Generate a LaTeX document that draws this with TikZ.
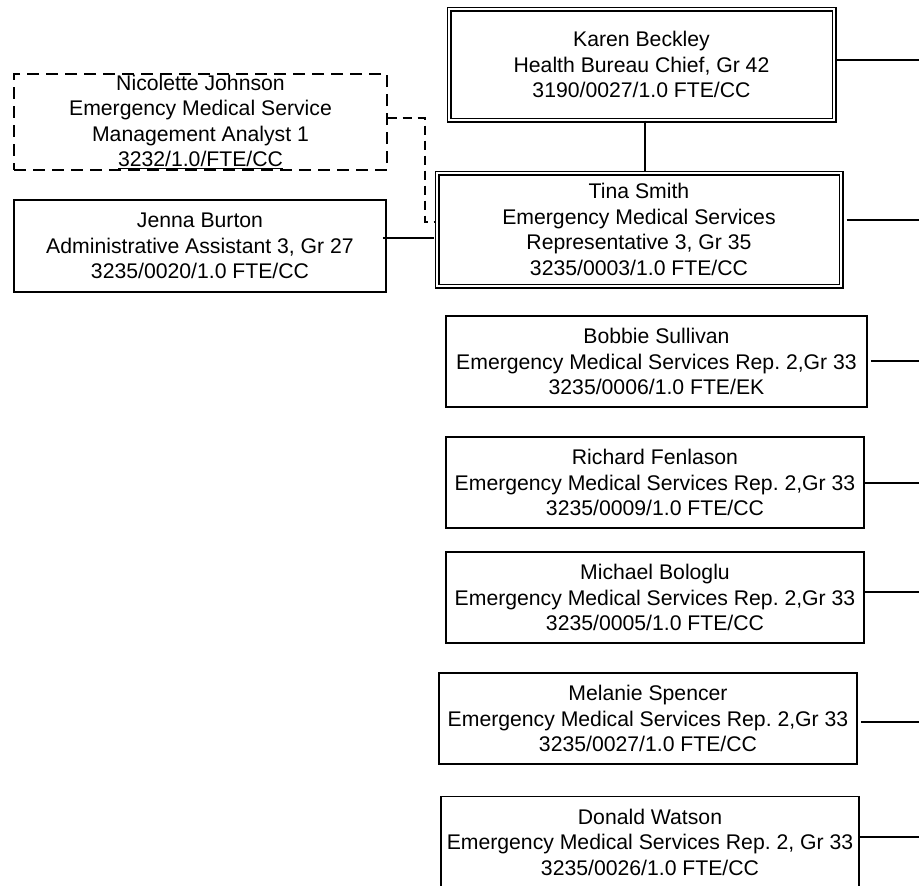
\documentclass[tikz,border=0pt]{standalone}
\usepackage{fontspec}
\setmainfont{Liberation Sans}
\frenchspacing
\begin{document}
\begin{tikzpicture}[x=1pt,y=-1pt,
  every node/.style={font=\fontsize{21.2}{25.5}\selectfont, align=center, inner sep=0pt},
  box/.style={draw, line width=1.6pt, rectangle},
  dbox/.style={draw, line width=1.3pt, double, double distance=2.4pt, rectangle},
  dashbox/.style={draw, line width=1.4pt, dash pattern=on 12pt off 7pt, rectangle},
  link/.style={line width=1.7pt},
  dlink/.style={line width=1.2pt, dash pattern=on 9pt off 6pt}]
\useasboundingbox (0,0) rectangle (919,886);
\clip (0,0) rectangle (919,886);
\fill[white] (0,0) rectangle (919,886);

% nodes
\node[dbox, minimum width=385pt, minimum height=111pt] (karen) at (641.5,64.5)
  {Karen Beckley\\Health Bureau Chief, Gr 42\\3190/0027/1.0 FTE/CC};
\node[dbox, minimum width=404pt, minimum height=113pt] (tina) at (639,229.5)
  {Tina Smith\\Emergency Medical Services\\Representative 3, Gr 35\\3235/0003/1.0 FTE/CC};
\node[dashbox, minimum width=373pt, minimum height=96pt] (nic) at (200.5,122)
  {Nicolette Johnson\\Emergency Medical Service\\Management Analyst 1\\\underline{3232/1.0/FTE/CC}};
\node[box, minimum width=372pt, minimum height=92pt] (jenna) at (200,246)
  {Jenna Burton\\Administrative Assistant 3, Gr 27\\3235/0020/1.0 FTE/CC};
\node[box, minimum width=421pt, minimum height=91pt] (bobbie) at (656.5,361.5)
  {Bobbie Sullivan\\Emergency Medical Services Rep. 2,Gr 33\hspace{6pt}\\3235/0006/1.0 FTE/EK};
\node[box, minimum width=418pt, minimum height=91pt] (richard) at (655,482.5)
  {Richard Fenlason\\Emergency Medical Services Rep. 2,Gr 33\\3235/0009/1.0 FTE/CC};
\node[box, minimum width=418pt, minimum height=91pt] (michael) at (655,597.5)
  {Michael Bologlu\\Emergency Medical Services Rep. 2,Gr 33\\3235/0005/1.0 FTE/CC};
\node[box, minimum width=418pt, minimum height=91pt] (melanie) at (648,718.5)
  {Melanie Spencer\\Emergency Medical Services Rep. 2,Gr 33\\3235/0027/1.0 FTE/CC};
\node[box, minimum width=418pt, minimum height=91pt] (donald) at (650,842)
  {Donald Watson\\Emergency Medical Services Rep. 2, Gr 33\\3235/0026/1.0 FTE/CC};

% free ends at the right edge and bend points
\coordinate (kx) at (645,0);
\coordinate (kR) at (919,60);
\coordinate (tR) at (919,220);
\coordinate (bR) at (919,361);
\coordinate (rR) at (919,483);
\coordinate (mR) at (919,592);
\coordinate (meR) at (919,722);
\coordinate (dR) at (919,837);
\coordinate (jy) at (0,238);
\coordinate (dc) at (425,118);
\coordinate (dy) at (0,222);

% connectors
\draw[link] (karen.south -| kx) -- (tina.north -| kx);
\draw[link] ([xshift=1.5pt]karen.east |- kR) -- (kR);
\draw[link] ([xshift=5pt]tina.east |- tR) -- (tR);
\draw[link] ([xshift=-4pt]jenna.east |- jy) -- ([xshift=-2pt]tina.west |- jy);
\draw[dlink] (nic.east |- dc) -- (dc) -- (dc |- dy) -- ([xshift=-2pt]tina.west |- dy);
\draw[link] ([xshift=3pt]bobbie.east |- bR) -- (bR);
\draw[link] (richard.east |- rR) -- (rR);
\draw[link] (michael.east |- mR) -- (mR);
\draw[link] ([xshift=3pt]melanie.east |- meR) -- (meR);
\draw[link] (donald.east |- dR) -- (dR);
\end{tikzpicture}
\end{document}
